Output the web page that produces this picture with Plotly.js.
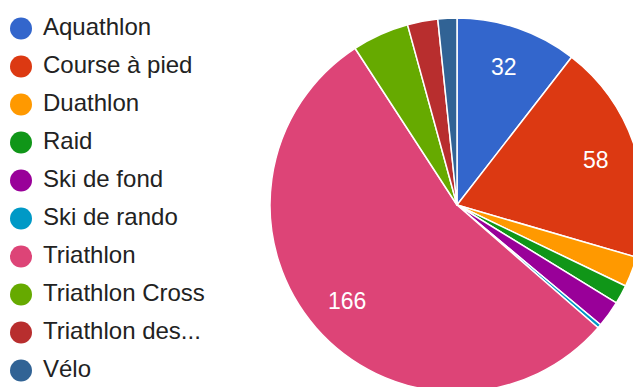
<!DOCTYPE html>
<html>
<head>
<meta charset="utf-8">
<script src="https://cdn.plot.ly/plotly-3.0.1.min.js"></script>
<style>
html,body{margin:0;padding:0;overflow:hidden;background:#fff;width:633px;height:387px;}
#chart{width:660px;height:400px;}
</style>
</head>
<body>
<div id="chart"></div>
<script>
var categories = ["Aquathlon","Course à pied","Duathlon","Raid","Ski de fond","Ski de rando","Triathlon","Triathlon Cross","Triathlon des...","Vélo"];
var values = [32, 58, 8, 5, 7, 1, 166, 15, 8, 5];
var colors = ["#3366cc","#dc3912","#ff9900","#109618","#990099","#0099c6","#dd4477","#66aa00","#b82e2e","#316395"];

var W = 660, H = 400;
var cx = 457, cy = 205, R = 187;
var font = "Liberation Sans, Arial, sans-serif";

var pie = {
  type: "pie",
  labels: categories,
  values: values,
  sort: false,
  direction: "clockwise",
  rotation: 0,
  marker: {colors: colors, line: {color: "#ffffff", width: 1.5}},
  textinfo: "none",
  hoverinfo: "label+value+percent",
  showlegend: false,
  domain: {x: [(cx - R) / W, (cx + R) / W], y: [1 - (cy + R) / H, 1 - (cy - R) / H]}
};

var idx = categories.map(function (c, i) { return i; });
var legendMarkers = {
  type: "scatter", mode: "markers",
  x: idx.map(function () { return 0; }), y: idx,
  marker: {size: 22, color: colors},
  hoverinfo: "skip", showlegend: false, xaxis: "x", yaxis: "y"
};
var legendText = {
  type: "scatter", mode: "text",
  x: idx.map(function () { return 22; }), y: idx,
  text: categories, textposition: "middle right",
  textfont: {family: font, size: 24, color: "#222222"},
  hoverinfo: "skip", showlegend: false, xaxis: "x", yaxis: "y"
};

// slice value labels, placed from the data
var total = values.reduce(function (a, b) { return a + b; }, 0);
var annotations = [];
var cum = 0;
values.forEach(function (v) {
  var mid = (cum + v / 2) / total * 2 * Math.PI;
  cum += v;
  if (v / total < 0.08) return;
  var px = cx + 0.78 * R * Math.sin(mid);
  var py = cy - 0.78 * R * Math.cos(mid);
  annotations.push({
    x: px / W, y: 1 - py / H, xref: "paper", yref: "paper",
    text: String(v), showarrow: false,
    font: {family: font, size: 23, color: "#ffffff"},
    xanchor: "center", yanchor: "middle"
  });
});

var rowH = 38, row0 = 28.5;
var layout = {
  width: W, height: H,
  margin: {l: 0, r: 0, t: 0, b: 0},
  paper_bgcolor: "#ffffff", plot_bgcolor: "rgba(0,0,0,0)",
  showlegend: false,
  xaxis: {domain: [0, 0.4], range: [-21, 243], visible: false, fixedrange: true},
  yaxis: {domain: [0, 1], range: [(H - row0) / rowH, -row0 / rowH], visible: false, fixedrange: true},
  annotations: annotations
};

Plotly.newPlot("chart", [pie, legendMarkers, legendText], layout, {displayModeBar: false, staticPlot: true});
</script>
</body>
</html>
